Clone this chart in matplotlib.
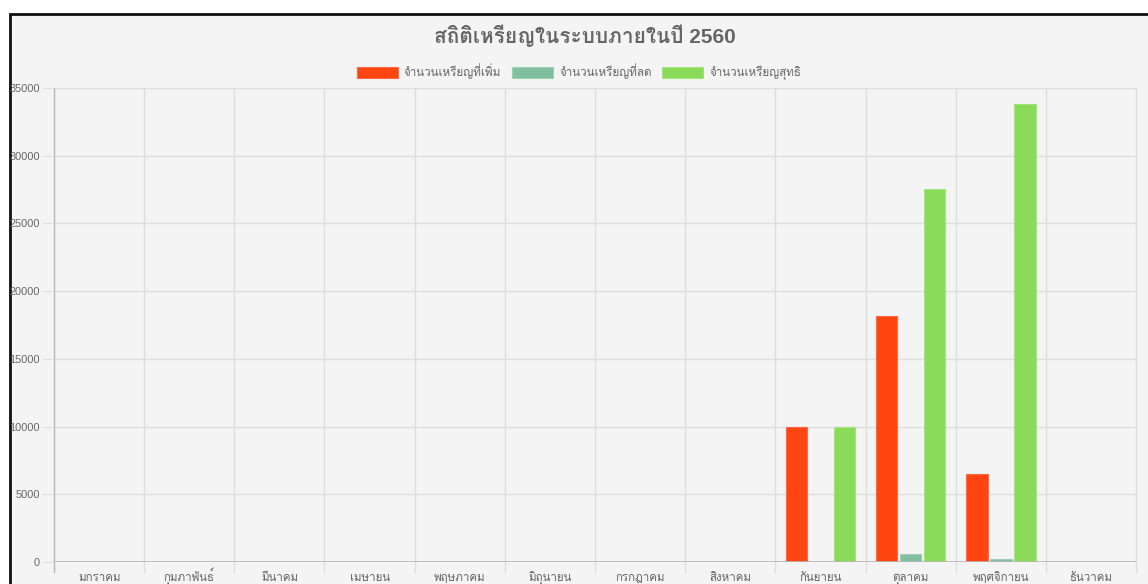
import numpy as np
import matplotlib
matplotlib.use("Agg")
import matplotlib.pyplot as plt
from matplotlib import font_manager
from matplotlib.ft2font import FT2Font
from matplotlib.patches import Rectangle

months = ["มกราคม", "กุมภาพันธ์", "มีนาคม", "เมษายน", "พฤษภาคม", "มิถุนายน",
          "กรกฎาคม", "สิงหาคม", "กันยายน", "ตุลาคม", "พฤศจิกายน", "ธันวาคม"]
added = [0, 0, 0, 0, 0, 0, 0, 0, 10000, 18160, 6480, 0]
removed = [0, 0, 0, 0, 0, 0, 0, 0, 0, 620, 200, 0]
net = [0, 0, 0, 0, 0, 0, 0, 0, 10000, 27540, 33820, 0]
series_names = ["จำนวนเหรียญที่เพิ่ม", "จำนวนเหรียญที่ลด", "จำนวนเหรียญสุทธิ"]
title = "สถิติเหรียญในระบบภายในปี 2560"


def find_thai_font():
    # look for any installed font that has Thai glyphs
    seen = set()
    for f in font_manager.fontManager.ttflist:
        if f.name in seen:
            continue
        try:
            cmap = FT2Font(f.fname).get_charmap()
        except Exception:
            continue
        if 0x0E01 in cmap and 0x0E33 in cmap:
            return f.name
        seen.add(f.name)
    return None


thai = find_thai_font()
families = ["Liberation Sans"] + ([thai] if thai else []) + ["DejaVu Sans"]
plt.rcParams["font.family"] = families

W, H = 1148, 584
fig = plt.figure(figsize=(W / 100, H / 100), dpi=100)
fig.patch.set_facecolor("white")
fig.patches.append(Rectangle((9.5 / W, -0.05), 1.2, 1 - 13.5 / H + 0.05,
                             transform=fig.transFigure, facecolor="#f4f4f4",
                             edgecolor="#111111", linewidth=2, zorder=-5))

ax = fig.add_axes([54 / W, 22 / H, (1136 - 54) / W, (562 - 88) / H])
ax.set_facecolor("none")

x = np.arange(len(months))
bw = 0.8 / 3 * 0.9
colors = ["#ff4511", "#80bf9f", "#8bdb5a"]
edges = ["#ff6a44", "#9fd0b6", "#a3e47c"]
for i, (vals, c, ec) in enumerate(zip([added, removed, net], colors, edges)):
    ax.bar(x + (i - 1) * 0.8 / 3, vals, width=bw, color=c, edgecolor=ec,
           linewidth=0.8, label=series_names[i], zorder=3)

ax.set_xlim(-0.5, len(months) - 0.5)
ax.set_ylim(0, 35000)
ax.set_yticks(np.arange(0, 35001, 5000))
ax.set_xticks(x)
ax.set_xticklabels(months)

for s in ax.spines.values():
    s.set_visible(False)

grid = "#dedede"
for yv in np.arange(5000, 35001, 5000):
    ax.axhline(yv, color=grid, linewidth=1, zorder=1)
ax.axhline(0, color="#b5b5b5", linewidth=1.2, zorder=4)
for b in np.arange(-0.5, len(months), 1.0):
    col = "#b5b5b5" if b == -0.5 else grid
    ax.axvline(b, ymin=-10 / 474, ymax=1, color=col, linewidth=1,
               clip_on=False, zorder=1)

ax.tick_params(axis="y", length=8, color=grid, labelsize=7.9,
               labelcolor="#666666", pad=2)
ax.tick_params(axis="x", length=0, labelsize=8.3, labelcolor="#666666", pad=14)
# align month names on a common baseline, like the browser chart
for lbl in ax.get_xticklabels():
    lbl.set_va("baseline")

fig.text(585 / W, 1 - 36 / H, title, ha="center", va="center",
         fontsize=15, fontweight="bold", color="#666666")

leg = ax.legend(loc="center", bbox_to_anchor=(579 / W, 1 - 72 / H),
                bbox_transform=fig.transFigure, ncol=3, frameon=False,
                fontsize=8.4, handlelength=3.5, handleheight=1.1,
                handletextpad=0.55, columnspacing=0.9, borderpad=0)
for t in leg.get_texts():
    t.set_color("#666666")

fig.savefig("out.png", dpi=100)
